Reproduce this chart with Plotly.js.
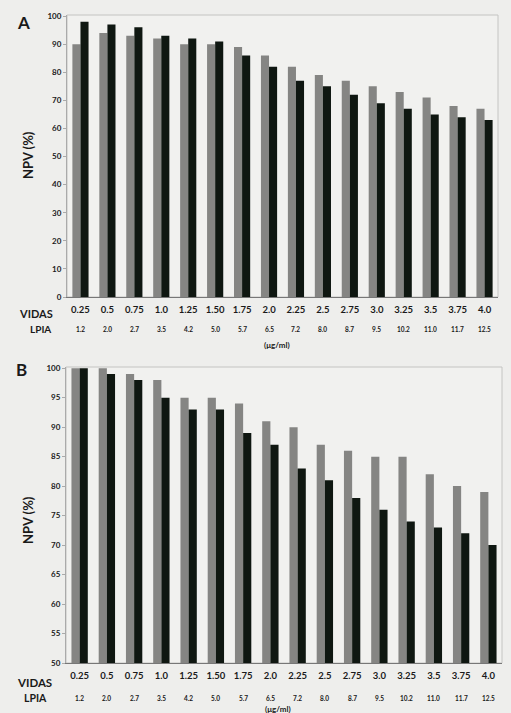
<!DOCTYPE html>
<html>
<head>
<meta charset="utf-8">
<script src="https://cdn.plot.ly/plotly-3.0.1.min.js"></script>
<style>html,body{margin:0;padding:0;background:#eeeeec;}#chart{width:511px;height:713px;}</style>
</head>
<body>
<div id="chart"></div>
<script>
// Categories (VIDAS cut-offs) and LPIA equivalents, µg/ml
const vidasLabels = ['0.25','0.5','0.75','1.0','1.25','1.50','1.75','2.0','2.25','2.5','2.75','3.0','3.25','3.5','3.75','4.0'];
const lpiaLabels  = ['1.2','2.0','2.7','3.5','4.2','5.0','5.7','6.5','7.2','8.0','8.7','9.5','10.2','11.0','11.7','12.5'];

// Panel A: NPV (%)
const aVidas = [90, 94, 93, 92, 90, 90, 89, 86, 82, 79, 77, 75, 73, 71, 68, 67];
const aLpia  = [98, 97, 96, 93, 92, 91, 86, 82, 77, 75, 72, 69, 67, 65, 64, 63];

// Panel B: NPV (%)
const bVidas = [100, 100, 99, 98, 95, 95, 94, 91, 90, 87, 86, 85, 85, 82, 80, 79];
const bLpia  = [100, 99, 98, 95, 93, 93, 89, 87, 83, 81, 78, 76, 74, 73, 72, 70];

const gray = '#858583';
const dark = '#0f1711';
const fontFam = 'Lato, "Open Sans", sans-serif';
const txt = '#1a1a1a';

const traces = [
  {type:'bar', x: vidasLabels, y: aVidas, name:'VIDAS', marker:{color: gray}, xaxis:'x', yaxis:'y', showlegend:false},
  {type:'bar', x: vidasLabels, y: aLpia, name:'LPIA', marker:{color: dark}, xaxis:'x', yaxis:'y', showlegend:false},
  {type:'bar', x: vidasLabels, y: bVidas, name:'VIDAS', marker:{color: gray}, xaxis:'x2', yaxis:'y2', showlegend:false},
  {type:'bar', x: vidasLabels, y: bLpia, name:'LPIA', marker:{color: dark}, xaxis:'x2', yaxis:'y2', showlegend:false}
];

const W = 511, H = 713;
const px = v => v / W;
const py = v => (H - v) / H;

const xCommon = {
  type:'category', showgrid:false, zeroline:false, showline:true, linecolor:'#777', linewidth:1,
  ticks:'', ticklabelstandoff:4, tickfont:{family: fontFam, size:9.5, color: txt, weight:700}, fixedrange:true
};
const yCommon = {
  showgrid:false, zeroline:false, showline:true, linecolor:'#aaa', linewidth:1,
  ticks:'outside', ticklen:3, tickcolor:'#aaa', tickfont:{family: fontFam, size:8, color: txt, weight:700}, fixedrange:true
};

const annotations = [];
function rowLabels(xref, yPix) {
  lpiaLabels.forEach((t, i) => {
    annotations.push({xref: xref, yref:'paper', x: i, y: py(yPix), text: t, showarrow:false,
      font:{family: fontFam, size:6.5, color: txt, weight:700}, xanchor:'center', yanchor:'middle'});
  });
}
rowLabels('x', 329);
rowLabels('x2', 698);

function label(text, xp, yp, size, extra) {
  annotations.push(Object.assign({xref:'paper', yref:'paper', x: px(xp), y: py(yp), text: text, showarrow:false,
    font:{family: fontFam, size: size, color: txt, weight:700}, xanchor:'center', yanchor:'middle'}, extra || {}));
}
label('A', 23, 23, 17);
label('B', 21, 369, 17);
label('NPV (%)', 28, 155, 13, {textangle:-90});
label('NPV (%)', 28, 520, 13, {textangle:-90});
label('VIDAS', 36, 313, 11);
label('LPIA', 40, 329, 10);
label('VIDAS', 34, 682, 11.5);
label('LPIA', 35, 698, 10.5);
label('(\u03bcg/ml)', 277, 345, 8);
label('(\u03bcg/ml)', 278, 709, 8);

const layout = {
  width: W, height: H,
  margin:{l:0, r:0, t:0, b:0},
  paper_bgcolor:'#eeeeec', plot_bgcolor:'#f1f1ef',
  barmode:'group', bargap:0.4, bargroupgap:0,
  xaxis: Object.assign({}, xCommon, {domain:[px(67), px(498)], anchor:'y'}),
  yaxis: Object.assign({}, yCommon, {domain:[py(297), py(15)], range:[0, 100.4], dtick:10, tick0:0, anchor:'x'}),
  xaxis2: Object.assign({}, xCommon, {domain:[px(66), px(502)], anchor:'y2'}),
  yaxis2: Object.assign({}, yCommon, {domain:[py(663), py(367)], range:[50, 100.2], dtick:5, tick0:50, anchor:'x2'}),
  shapes:[
    {type:'rect', xref:'x domain', yref:'y domain', x0:0, x1:1, y0:0, y1:1, line:{color:'#c4c4c2', width:1}, layer:'below'},
    {type:'rect', xref:'x2 domain', yref:'y2 domain', x0:0, x1:1, y0:0, y1:1, line:{color:'#c4c4c2', width:1}, layer:'below'}
  ],
  annotations: annotations
};

Plotly.newPlot('chart', traces, layout, {displayModeBar:false, staticPlot:true});
</script>
</body>
</html>
